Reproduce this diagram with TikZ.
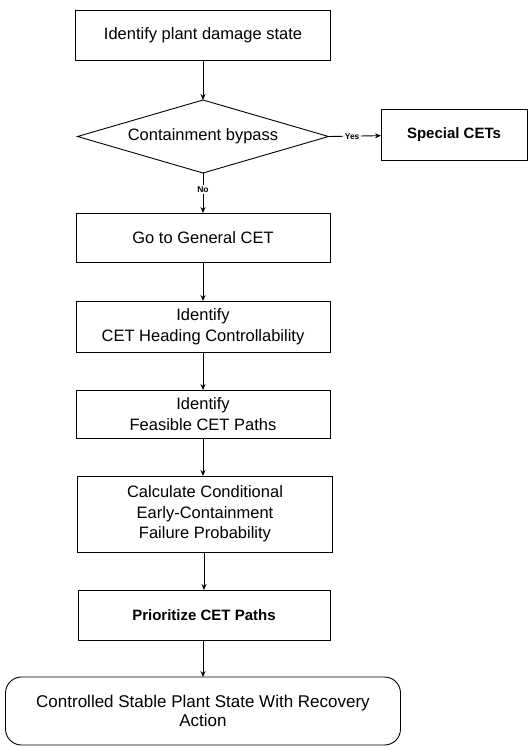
\documentclass[tikz,border=0pt]{standalone}
\usepackage{fontspec}
\setmainfont{Liberation Sans}
\usetikzlibrary{shapes.geometric,arrows.meta,positioning}

\begin{document}
\begin{tikzpicture}[y=1pt,x=1pt,yscale=-1, inner sep=0pt, outer sep=0pt,
    boxnode/.style={draw=black,line width=0.9pt,rectangle,minimum width=254pt,
      minimum height=50pt,align=center,font=\fontsize{16.5}{20.5}\selectfont},
    decisionnode/.style={draw=black,line width=0.9pt,diamond,aspect=3.45,
      minimum width=251pt,minimum height=73pt,font=\fontsize{16.5}{20.5}\selectfont},
    endnode/.style={draw=black,line width=0.9pt,rectangle,rounded corners=16pt,
      minimum width=395pt,minimum height=68pt,align=center,
      font=\fontsize{17}{19}\selectfont},
    flowarrow/.style={draw=black,line width=0.9pt,-{Stealth[length=6pt,width=5pt]}},
    branchlabel/.style={fill=white,inner sep=1.5pt,font=\fontsize{8.5}{9}\selectfont\bfseries}]
  \useasboundingbox (0,0) rectangle (528,747);
  \node[boxnode,minimum width=255pt] (pds) at (203,35) {Identify plant damage state};
  \node[decisionnode] (bypass) at (203,136.5) {Containment bypass};
  \node[boxnode,minimum width=146pt,minimum height=51pt,
    font=\fontsize{15}{20}\selectfont\bfseries] (special) at (454,134.5) {Special CETs};
  \node[boxnode,minimum height=49pt] (general) at (203,237.5) {Go to General CET};
  \node[boxnode,minimum height=51pt] (heading) at (203,326.5)
    {Identify\\CET Heading Controllability};
  \node[boxnode,minimum height=48pt] (feasible) at (203,414) {Identify\\Feasible CET Paths};
  \node[boxnode,minimum width=255pt,minimum height=76pt] (calc) at (205,514)
    {Calculate Conditional\\Early-Containment\\Failure Probability};
  \node[boxnode,minimum width=252pt,
    font=\fontsize{15}{20}\selectfont\bfseries] (prio) at (204,615) {Prioritize CET Paths};
  \node[endnode] (stable) at (203,711)
    {Controlled Stable Plant State With Recovery\\Action};

  \path[flowarrow] (pds) -- (bypass);
  \path[flowarrow] (bypass.east) -- node[branchlabel,pos=0.45] {Yes} (special);
  \path[flowarrow] (bypass.south) -- node[branchlabel,pos=0.42] {No} (general.north);
  \path[flowarrow] (general) -- (heading);
  \path[flowarrow] (heading) -- (feasible);
  \path[flowarrow] (feasible.south) -- (feasible.south |- calc.north);
  \path[flowarrow] (calc.south -| prio.north) -- (prio.north);
  \path[flowarrow] (prio.south -| stable.north) -- (stable.north);

\end{tikzpicture}
\end{document}
